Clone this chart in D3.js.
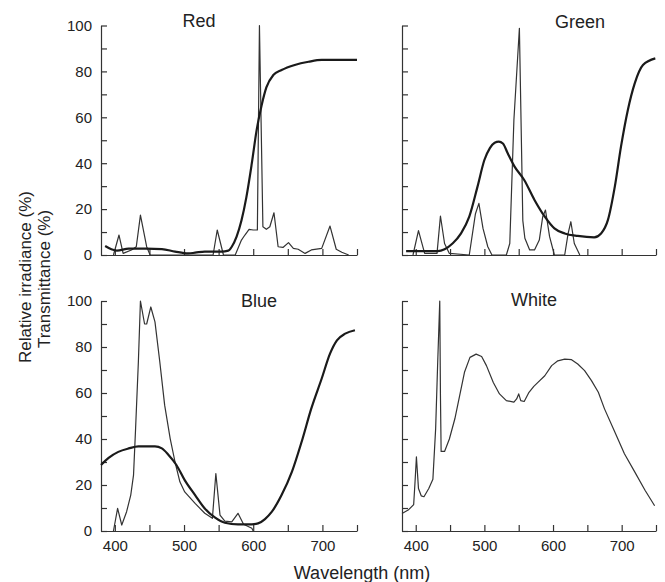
<!DOCTYPE html>
<html lang="en">
<head>
  <meta charset="UTF-8">
  <title>Irradiance and transmittance - Red, Green, Blue, White</title>
  <script src="https://d3js.org/d3.v7.min.js"></script>
  <style>
    body {
      margin: 0;
      background: #fff;
      font-family: "Liberation Sans", Arial, sans-serif;
    }
    .axis path, .axis line {
      stroke: #333;
      stroke-width: 1.2px;
    }
    .axis text {
      font-family: "Liberation Sans", Arial, sans-serif;
      font-size: 15px;
      fill: #222;
    }
  </style>
</head>
<body>
  <div id="chart"></div>
  <script>
    // wavelength (nm), percent
    const redTransmittance = [[386,3.9],[395,2.5],[403,1.9],[420,2.8],[445,2.8],[468,2.6],[487,1.5],[506,0.7],[516,1.0],[530,1.5],[554,1.5],[564,1.9],[569,3.6],[576,8],[583,15],[590,25],[598,40],[605,54.5],[612,65],[619,73],[629,78.4],[641,80.6],[660,82.8],[680,84.2],[699,85],[750,85]];
    const redIrradiance = [[398,0],[406,8.7],[412,0.7],[424,2.2],[431,3.6],[437,17.4],[446,3.6],[451,0],[542,0],[548,10.9],[557,0],[574,0],[583,6.5],[588,8.7],[594,11.2],[600,10.9],[606,10.9],[609,100],[614,12.3],[619,11.2],[624,12.3],[630,18.4],[636,3.6],[643,3.3],[651,5.4],[658,2.9],[665,2.5],[675,0.7],[684,2.2],[699,2.9],[711,12.6],[720,2.5],[728,1.2],[738,0]];

    const greenTransmittance = [[386,1.7],[432,1.7],[442,2.5],[454,5.1],[466,9.4],[478,16.7],[490,29.8],[500,41.4],[508,46.6],[515,48.9],[521,49.4],[527,48.6],[534,44.3],[544,38.5],[558,32.7],[573,24],[588,16.7],[602,11.6],[617,9.4],[636,8.3],[660,7.7],[670,9.4],[680,15.3],[690,29.8],[699,47.2],[709,63.2],[719,74.8],[731,82.8],[749,85.7]];
    const greenIrradiance = [[396,0],[404,10.6],[413,0.7],[431,0.7],[436,17],[442,5],[449,0.7],[478,0],[487,18],[492,22.5],[498,11.6],[505,3.6],[511,0],[532,0],[537,5],[543,58.8],[551,98.8],[556,15],[559,7.3],[566,2.2],[573,2.2],[580,6.5],[585,16.7],[589,19.6],[595,8],[602,0],[617,0],[622,9.4],[626,14.5],[631,5],[639,0]];

    const blueTransmittance = [[380,28.7],[391,31.8],[405,34.4],[420,35.9],[434,36.8],[458,36.8],[468,35.9],[477,33.3],[489,28.7],[501,22.1],[516,15.6],[530,9.8],[545,5.8],[559,3.6],[578,2.9],[598,2.9],[607,3.3],[617,5.2],[627,8.4],[641,15.6],[656,25.8],[670,38.8],[684,53.3],[699,66.3],[711,77.1],[721,82.9],[733,85.8],[747,87.3]];
    const blueIrradiance = [[398,0],[404,9.8],[410,2.6],[417,8.4],[423,15.6],[427,24.3],[430,44.6],[434,73.5],[437,100],[443,90],[446,90],[452,97.4],[458,90.9],[465,73.5],[472,54.7],[480,40.2],[487,30],[494,21.4],[501,17],[516,12],[530,7.7],[541,5.5],[546,25],[552,6.9],[559,4.3],[569,4],[578,7.7],[586,2.9],[598,1.2],[600,0]];

    const whiteIrradiance = [[380,7.6],[389,9.1],[397,11.5],[399,21.4],[401,32.2],[404,18.5],[408,15.3],[412,14.9],[419,18.5],[425,22.5],[429,44.4],[432,73.3],[435,100],[436,58.9],[437,34.6],[442,34.6],[449,40],[457,48.8],[464,58.9],[471,69],[479,75.5],[488,76.9],[496,75.9],[503,71.9],[513,64.6],[522,59.6],[532,56.7],[543,56],[547,57.4],[550,59.6],[553,56.7],[558,56.3],[565,60.3],[572,62.9],[578,64.6],[588,67.5],[598,71.9],[607,74],[617,74.7],[627,74.5],[636,72.6],[646,69.7],[656,65.4],[666,60.3],[675,53.1],[690,43],[704,33.6],[719,25.7],[734,17.7],[748,11]];

    const panelTitles = ["Red", "Green", "Blue", "White"];
    const xTicks = [400, 450, 500, 550, 600, 650, 700, 750];
    const xTickLabels = [400, 500, 600, 700];
    const yTicks = [0, 10, 20, 30, 40, 50, 60, 70, 80, 90, 100];
    const yTickLabels = [0, 20, 40, 60, 80, 100];

    const width = 665, height = 582;

    const svg = d3.select("#chart")
      .append("svg")
      .attr("width", width)
      .attr("height", height);

    // panel layout (pixel boxes of the four plots)
    const cols = [[101, 357], [402, 656]];
    const rows = [[255, 25.5], [531, 301]];

    const panels = [
      { title: panelTitles[0], col: 0, row: 0, trans: redTransmittance, irr: redIrradiance, tx: 199, ty: 27 },
      { title: panelTitles[1], col: 1, row: 0, trans: greenTransmittance, irr: greenIrradiance, tx: 580, ty: 28 },
      { title: panelTitles[2], col: 0, row: 1, trans: blueTransmittance, irr: blueIrradiance, tx: 259, ty: 307 },
      { title: panelTitles[3], col: 1, row: 1, trans: null, irr: whiteIrradiance, tx: 534, ty: 306 }
    ];

    panels.forEach(p => {
      const x = d3.scaleLinear().domain([380, 750]).range(cols[p.col]);
      const y = d3.scaleLinear().domain([0, 100]).range(rows[p.row]);
      const showX = p.row === 1;
      const showY = p.col === 0;

      svg.append("g")
        .attr("class", "axis")
        .attr("transform", `translate(0,${y(0)})`)
        .call(d3.axisBottom(x)
          .tickValues(xTicks)
          .tickSize(-6)
          .tickSizeOuter(0)
          .tickPadding(9)
          .tickFormat(d => (showX && xTickLabels.includes(d)) ? d : ""));

      svg.append("g")
        .attr("class", "axis")
        .attr("transform", `translate(${x(380)},0)`)
        .call(d3.axisLeft(y)
          .tickValues(yTicks)
          .tickSize(-6)
          .tickSizeOuter(0)
          .tickPadding(9)
          .tickFormat(d => (showY && yTickLabels.includes(d)) ? d : ""));

      // thin line: relative irradiance
      svg.append("path")
        .datum(p.irr)
        .attr("fill", "none")
        .attr("stroke", "#333")
        .attr("stroke-width", 1.2)
        .attr("stroke-linejoin", "round")
        .attr("d", d3.line().x(d => x(d[0])).y(d => y(d[1])));

      // thick line: transmittance
      if (p.trans) {
        svg.append("path")
          .datum(p.trans)
          .attr("fill", "none")
          .attr("stroke", "#1a1a1a")
          .attr("stroke-width", 2.2)
          .attr("d", d3.line().curve(d3.curveMonotoneX).x(d => x(d[0])).y(d => y(d[1])));
      }

      svg.append("text")
        .attr("x", p.tx)
        .attr("y", p.ty)
        .attr("text-anchor", "middle")
        .style("font-size", "18px")
        .style("fill", "#222")
        .text(p.title);
    });

    svg.append("text")
      .attr("transform", "translate(25,277) rotate(-90)")
      .attr("text-anchor", "middle")
      .attr("dominant-baseline", "central")
      .style("font-size", "17px")
      .style("fill", "#222")
      .text("Relative irradiance (%)");

    svg.append("text")
      .attr("transform", "translate(44,279) rotate(-90)")
      .attr("text-anchor", "middle")
      .attr("dominant-baseline", "central")
      .style("font-size", "17px")
      .style("fill", "#222")
      .text("Transmittance (%)");

    svg.append("text")
      .attr("x", 362)
      .attr("y", 579)
      .attr("text-anchor", "middle")
      .style("font-size", "18px")
      .style("fill", "#222")
      .text("Wavelength (nm)");
  </script>
</body>
</html>
